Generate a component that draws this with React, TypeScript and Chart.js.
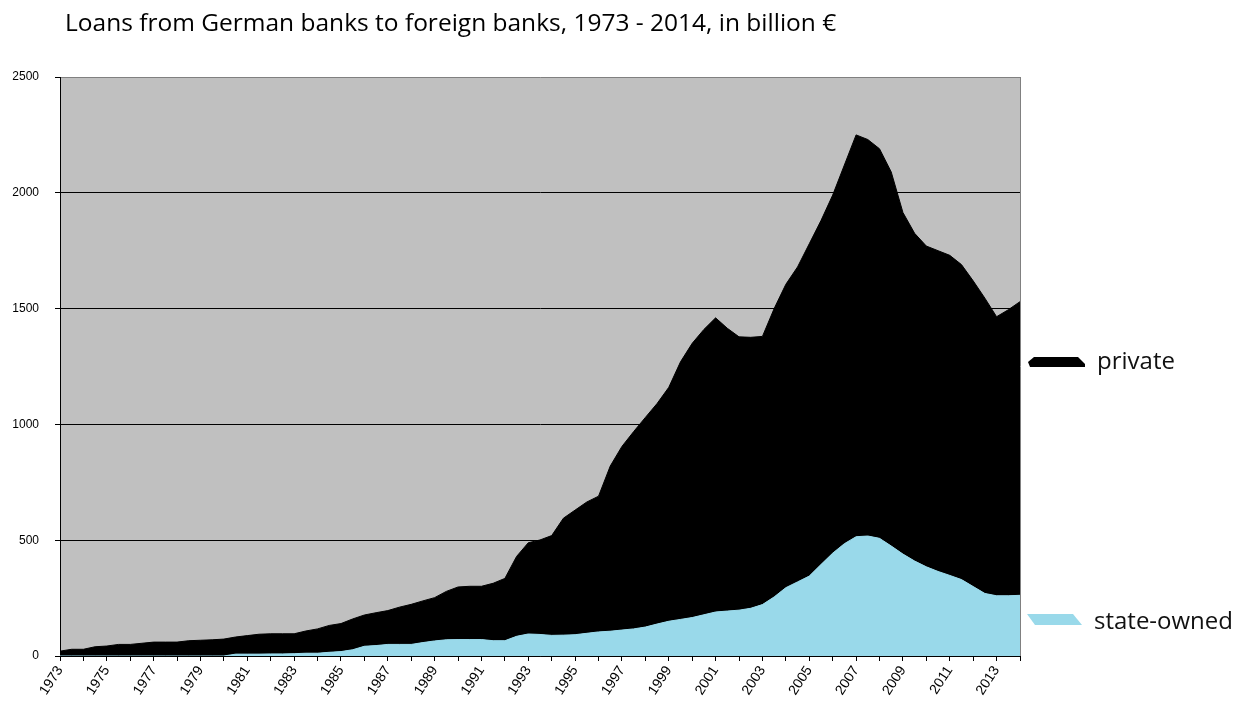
import React, { useEffect, useRef } from 'react';
import { Chart, registerables } from 'chart.js';

Chart.register(...registerables);

const TITLE = 'Loans from German banks to foreign banks, 1973 - 2014, in billion €';
const SERIES_NAMES = ['private', 'state-owned'];

// half-year points, 1973.0 .. 2014.0
const years = [
  1973, 1973.5, 1974, 1974.5, 1975, 1975.5, 1976, 1976.5, 1977, 1977.5,
  1978, 1978.5, 1979, 1979.5, 1980, 1980.5, 1981, 1981.5, 1982, 1982.5,
  1983, 1983.5, 1984, 1984.5, 1985, 1985.5, 1986, 1986.5, 1987, 1987.5,
  1988, 1988.5, 1989, 1989.5, 1990, 1990.5, 1991, 1991.5, 1992, 1992.5,
  1993, 1993.5, 1994, 1994.5, 1995, 1995.5, 1996, 1996.5, 1997, 1997.5,
  1998, 1998.5, 1999, 1999.5, 2000, 2000.5, 2001, 2001.5, 2002, 2002.5,
  2003, 2003.5, 2004, 2004.5, 2005, 2005.5, 2006, 2006.5, 2007, 2007.5,
  2008, 2008.5, 2009, 2009.5, 2010, 2010.5, 2011, 2011.5, 2012, 2012.5,
  2013, 2013.5, 2014,
];

// billion €, state-owned banks (bottom layer)
const stateOwned = [
  0, 0, 0, 0, 0, 0, 0, 0, 0, 0,
  0, 0, 0, 0, 0, 8, 8, 8, 9, 9,
  10, 12, 12, 16, 19, 27, 42, 45, 50, 50,
  50, 58, 65, 70, 71, 71, 71, 66, 66, 85,
  95, 93, 89, 90, 92, 98, 104, 107, 112, 117,
  125, 138, 150, 158, 166, 178, 190, 194, 198, 206,
  222, 255, 295, 320, 345, 395, 444, 485, 515, 518,
  508, 475, 440, 410, 385, 365, 348, 330, 300, 270,
  260, 260, 262,
];

// billion €, private banks (stacked on top)
const privateBanks = [
  21, 29, 29, 40, 43, 50, 50, 55, 60, 60,
  60, 66, 68, 70, 73, 74, 80, 86, 87, 87,
  86, 96, 105, 116, 121, 133, 135, 142, 146, 161,
  173, 180, 187, 209, 227, 230, 230, 248, 269, 345,
  394, 408, 431, 505, 538, 567, 586, 713, 793, 852,
  905, 952, 1010, 1112, 1184, 1232, 1270, 1221, 1180, 1170,
  1158, 1245, 1310, 1360, 1435, 1485, 1546, 1635, 1735, 1712,
  1682, 1615, 1475, 1415, 1385, 1385, 1382, 1360, 1320, 1275,
  1205, 1235, 1268,
];

const yTicks = [0, 500, 1000, 1500, 2000, 2500];
const labelYears = [1973, 1975, 1977, 1979, 1981, 1983, 1985, 1987, 1989, 1991, 1993, 1995, 1997, 1999, 2001, 2003, 2005, 2007, 2009, 2011, 2013];

const COLOR_PRIVATE = '#000000';
const COLOR_STATE = '#99d9ea';
const PLOT_BG = '#c0c0c0';

const decorPlugin = {
  id: 'decor',
  beforeDraw(chart: any) {
    const { ctx, chartArea } = chart;
    ctx.save();
    ctx.fillStyle = PLOT_BG;
    ctx.fillRect(chartArea.left, chartArea.top, chartArea.right - chartArea.left, chartArea.bottom - chartArea.top);
    ctx.restore();
  },
  afterDraw(chart: any) {
    const { ctx, chartArea } = chart;
    ctx.save();
    // right border of plot
    ctx.strokeStyle = '#808080';
    ctx.lineWidth = 1;
    ctx.beginPath();
    ctx.moveTo(Math.round(chartArea.right) + 0.5, chartArea.top);
    ctx.lineTo(Math.round(chartArea.right) + 0.5, chartArea.bottom);
    ctx.stroke();

    // title
    ctx.fillStyle = '#000';
    ctx.font = '24.5px "Open Sans"';
    ctx.textBaseline = 'alphabetic';
    ctx.textAlign = 'left';
    ctx.fillText(TITLE, 65, 31);

    // legend markers
    ctx.fillStyle = COLOR_PRIVATE;
    ctx.beginPath();
    ctx.moveTo(1028, 362);
    ctx.lineTo(1034, 357);
    ctx.lineTo(1078, 357);
    ctx.lineTo(1085, 364);
    ctx.lineTo(1085, 367);
    ctx.lineTo(1030, 367);
    ctx.closePath();
    ctx.fill();

    ctx.fillStyle = COLOR_STATE;
    ctx.beginPath();
    ctx.moveTo(1027, 614);
    ctx.lineTo(1073, 614);
    ctx.lineTo(1082, 625);
    ctx.lineTo(1035, 625);
    ctx.closePath();
    ctx.fill();

    ctx.fillStyle = '#111';
    ctx.font = '24px "Open Sans"';
    ctx.textBaseline = 'middle';
    ctx.fillText(SERIES_NAMES[0], 1097, 362);
    ctx.fillText(SERIES_NAMES[1], 1094, 622);
    ctx.restore();
  },
};

export default function App() {
  const canvasRef = useRef<HTMLCanvasElement | null>(null);

  useEffect(() => {
    const canvas = canvasRef.current;
    if (!canvas) return;
    const chart = new Chart(canvas, {
      type: 'line',
      data: {
        datasets: [
          {
            label: SERIES_NAMES[1],
            data: years.map((x, i) => ({ x, y: stateOwned[i] })),
            backgroundColor: COLOR_STATE,
            borderColor: COLOR_STATE,
            borderWidth: 1,
            pointRadius: 0,
            fill: 'origin',
            tension: 0,
          },
          {
            label: SERIES_NAMES[0],
            data: years.map((x, i) => ({ x, y: privateBanks[i] })),
            backgroundColor: COLOR_PRIVATE,
            borderColor: COLOR_PRIVATE,
            borderWidth: 1,
            pointRadius: 0,
            fill: '-1',
            tension: 0,
          },
        ],
      },
      options: {
        animation: false,
        responsive: true,
        maintainAspectRatio: false,
        layout: { padding: { top: 77, right: 230, left: 0, bottom: 0 } },
        plugins: {
          legend: { display: false },
          title: { display: false },
          tooltip: { enabled: false },
        },
        scales: {
          x: {
            type: 'linear',
            min: 1973,
            max: 2014,
            afterFit: (scale: any) => {
              scale.height = 54;
            },
            ticks: {
              stepSize: 1,
              autoSkip: false,
              includeBounds: false,
              maxRotation: 57,
              minRotation: 57,
              padding: 2,
              color: '#000',
              font: { family: 'Liberation Sans', size: 14 },
              callback: (v: any) => (labelYears.includes(Number(v)) ? String(v) : ''),
            },
            grid: {
              drawOnChartArea: false,
              drawTicks: true,
              tickLength: 5,
              tickColor: '#000',
              color: '#000',
            },
            border: { display: true, color: '#000', width: 1 },
          },
          y: {
            stacked: true,
            min: 0,
            max: 2500,
            afterFit: (scale: any) => {
              scale.width = 60;
            },
            afterBuildTicks: (scale: any) => {
              scale.ticks = yTicks.map((v) => ({ value: v }));
            },
            ticks: {
              color: '#000',
              padding: 16,
              font: { family: 'Liberation Sans', size: 12 },
              callback: (v: any) => String(v),
            },
            grid: {
              color: (c: any) => (c.tick && c.tick.value === 2500 ? '#808080' : '#000'),
              lineWidth: 1,
              drawTicks: true,
              tickLength: 5,
              tickColor: '#000',
            },
            border: { display: true, color: '#000', width: 1 },
          },
        },
      },
      plugins: [decorPlugin],
    });
    return () => chart.destroy();
  }, []);

  return (
    <div style={{ position: 'fixed', left: 0, top: 0, width: 1250, height: 710, background: '#fff' }}>
      <canvas ref={canvasRef} />
    </div>
  );
}
